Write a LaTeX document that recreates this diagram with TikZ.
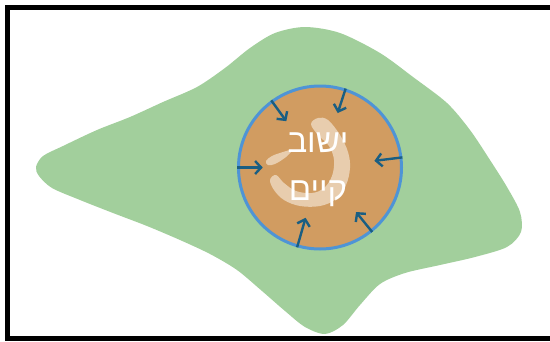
\documentclass[tikz,border=0pt]{standalone}
\usepackage{fontspec}
\usepackage{tikz}
\usetikzlibrary{arrows.meta,calc}
\TeXXeTstate=1
\newfontfamily\hebfont[Script=Hebrew]{Liberation Sans}
\definecolor{areagreen}{HTML}{A2CF9C}
\definecolor{townfill}{HTML}{D19C61}
\definecolor{townline}{HTML}{4E94D6}
\definecolor{arrowblue}{HTML}{1A5E82}
\definecolor{palemark}{HTML}{E8CDAE}
\tikzset{
  frame/.style={draw=black,line width=5pt},
  area/.style={fill=areagreen,draw=none},
  town/.style={circle,draw=townline,fill=townfill,line width=3pt,minimum size=163pt,inner sep=0pt},
  palesign/.style={fill=palemark,draw=none},
  townname/.style={text=white,align=center,font=\hebfont\fontsize{33}{48}\selectfont},
  inflow/.style={-{Straight Barb[length=6pt,width=13pt]},line width=2.4pt,draw=arrowblue}
}

\begin{document}
\begin{tikzpicture}[x=1pt,y=-1pt]
\clip (0,0) rectangle (550,341);
% Rahmen
\draw[frame] (7.5,7.5) rectangle (570,338.5);

% Gebiet
\fill[area] plot[smooth cycle,tension=0.5] coordinates {
  (36,167) (43,156) (63,146) (97,130) (130,117) (163,102) (197,87) (225,68)
  (250,48) (275,33) (305,27) (340,33) (380,53) (413,77) (447,103) (470,130)
  (490,160) (507,187) (520,212) (521,232) (507,247) (475,257) (440,265)
  (405,273) (380,284) (360,305) (343,325) (325,334) (305,327) (285,311)
  (262,291) (237,270) (210,254) (180,240) (147,226) (113,213) (80,200)
  (52,188) (39,176)};

\node[town] (town) at (320,167.5) {};

% Zeichen
\fill[palesign] plot[smooth cycle,tension=0.6] coordinates {
  (311,124) (318,118) (328,120) (340,135) (348,152) (350,168) (346,185)
  (336,199) (320,206) (300,206) (284,200) (274,190) (270,180) (276,175)
  (284,183) (296,191) (312,193) (324,188) (332,176) (334,160) (329,146)
  (318,135)};
\fill[palesign] plot[smooth cycle,tension=0.6] coordinates {
  (266,161) (272,156) (283,152) (292,150) (286,157) (275,164) (268,165)};

\node[townname] (name) at (318,170) {\beginR ישוב\endR\\\beginR קיים\endR};

\draw[inflow] (town.126) -- ($(town.center)!0.69!(town.126)$);
\draw[inflow] (town.72) -- ($(town.center)!0.69!(town.72)$);
\draw[inflow] (town.7) -- ($(town.center)!0.66!(town.7)$);
\draw[inflow] (town.-51) -- ($(town.center)!0.69!(town.-51)$);
\draw[inflow] (town.-106) -- ($(town.center)!0.63!(town.-106)$);
\draw[inflow] (town.180) -- ($(town.center)!0.69!(town.180)$);
\end{tikzpicture}
\end{document}
